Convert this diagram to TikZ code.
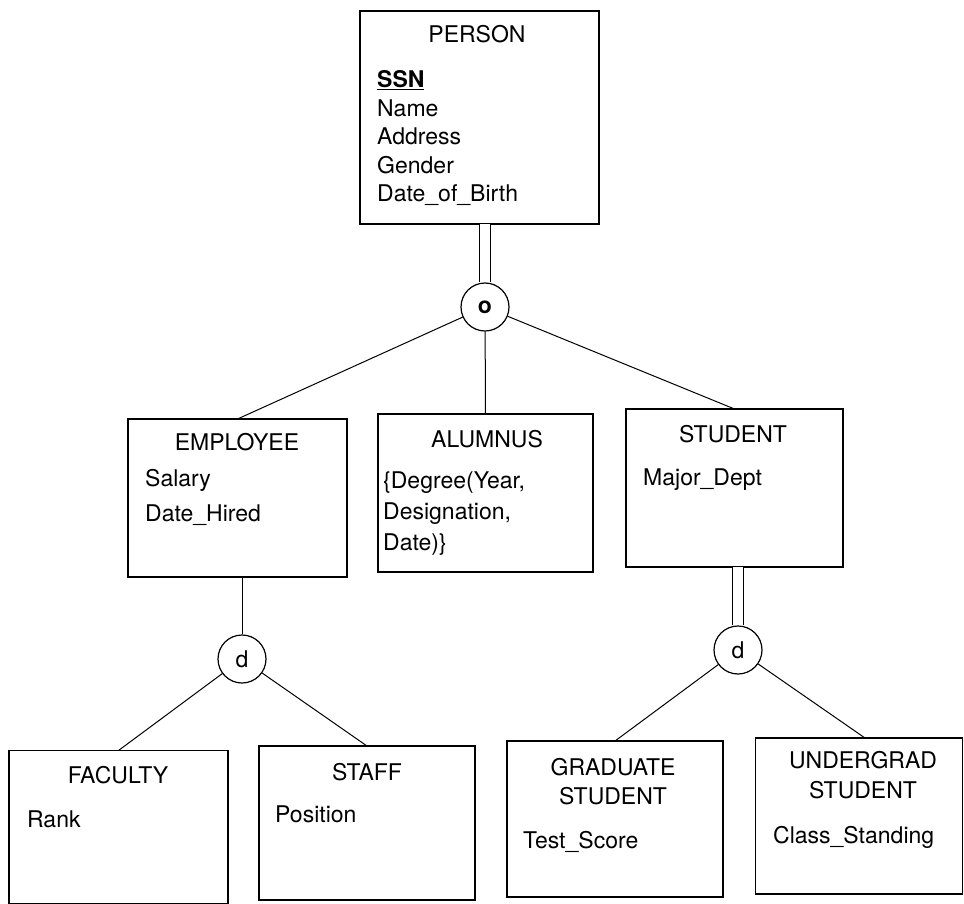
\documentclass[tikz,border=0pt]{standalone}
\usepackage{fontspec}
\setmainfont{TeX Gyre Heros}
\tikzset{>=latex}
\tikzstyle{entity}=[draw,line width=1.2pt,rectangle,inner sep=0,outer sep=0]
\tikzstyle{spec}=[draw,line width=1.2pt,circle,minimum size=48pt,inner sep=0,font=\fontsize{23}{27}\selectfont]
\tikzstyle{title}=[anchor=base,inner sep=0,font=\fontsize{23}{27}\selectfont]
\tikzstyle{attr}=[anchor=base west,inner sep=0,font=\fontsize{23}{27}\selectfont]
\tikzstyle{isa}=[line width=1pt]
\tikzstyle{total}=[line width=1.1pt,double,double distance=10pt]
\def\dy{28.5}

\begin{document}
\begin{tikzpicture}[x=1pt,y=-1pt]
  \useasboundingbox (0,0) rectangle (964,904);

  % ENTITIES
  \node[entity,minimum width=239pt,minimum height=213pt] (person) at (479.5,117.5) {};
  \node[entity,minimum width=219pt,minimum height=158pt] (employee) at (237.5,498) {};
  \node[entity,minimum width=215pt,minimum height=158pt] (alumnus) at (485.5,493) {};
  \node[entity,minimum width=217pt,minimum height=158pt] (student) at (734.5,488) {};
  \node[entity,minimum width=219pt,minimum height=153pt] (faculty) at (118.5,827) {};
  \node[entity,minimum width=216pt,minimum height=154pt] (staff) at (367,823) {};
  \node[entity,minimum width=216pt,minimum height=156pt] (grad) at (615,819) {};
  \node[entity,minimum width=207pt,minimum height=156pt] (undergrad) at (859,816) {};

  % TITLES
  \node[title] (person-t) at (477,43) {PERSON};
  \node[title] (employee-t) at (237,450) {EMPLOYEE};
  \node[title] (alumnus-t) at (487,447) {ALUMNUS};
  \node[title] (student-t) at (733,442) {STUDENT};
  \node[title] (faculty-t) at (118,783) {FACULTY};
  \node[title] (staff-t) at (367,780) {STAFF};
  \node[title] (grad-t1) at (613,775) {GRADUATE};
  \node[title] (grad-t2) at (613,804) {STUDENT};
  \node[title] (undergrad-t1) at (863,768) {UNDERGRAD};
  \node[title] (undergrad-t2) at (863,798) {STUDENT};

  % ATTRIBUTES
  \node[attr] (person-key) at (377,88) {\textbf{\underline{SSN}}};
  \foreach \txt [count=\i] in {Name,Address,Gender,Date\_of\_Birth}
    \node[attr] (person-a\i) at (377,88+\dy*\i) {\txt};
  \foreach \txt [count=\i] in {Salary,Date\_Hired}
    \node[attr] (employee-a\i) at (145,451+35*\i) {\txt};
  \foreach \txt [count=\i] in {{\{Degree(Year,},{Designation,},{Date)\}}}
    \node[attr] (alumnus-a\i) at (383,457+31*\i) {\txt};
  \node[attr] (student-a1) at (643,485) {Major\_Dept};
  \node[attr] (faculty-a1) at (27,827) {Rank};
  \node[attr] (staff-a1) at (275,822) {Position};
  \node[attr] (grad-a1) at (523,848) {Test\_Score};
  \node[attr] (undergrad-a1) at (773,843) {Class\_Standing};

  % SPECIALIZATIONS
  \node[spec] (overlap) at (485,307) {\textbf{o}};
  \node[spec] (disjE) at (242,659) {d};
  \node[spec] (disjS) at (738,650) {d};

  % CONNECTORS
  \draw[total] (overlap.north) -- (overlap.north |- person.south);
  \draw[isa] (overlap) -- (employee.north);
  \draw[isa] (overlap) -- (alumnus.north);
  \draw[isa] (overlap) -- (student.north);
  \draw[isa] (disjE) -- (disjE |- employee.south);
  \draw[isa] (disjE) -- (faculty.north);
  \draw[isa] (disjE) -- (staff.north);
  \draw[total] (disjS.north) -- (disjS.north |- student.south);
  \draw[isa] (disjS) -- (grad.north);
  \draw[isa] (disjS) -- ([xshift=6pt]undergrad.north);

\end{tikzpicture}
\end{document}
